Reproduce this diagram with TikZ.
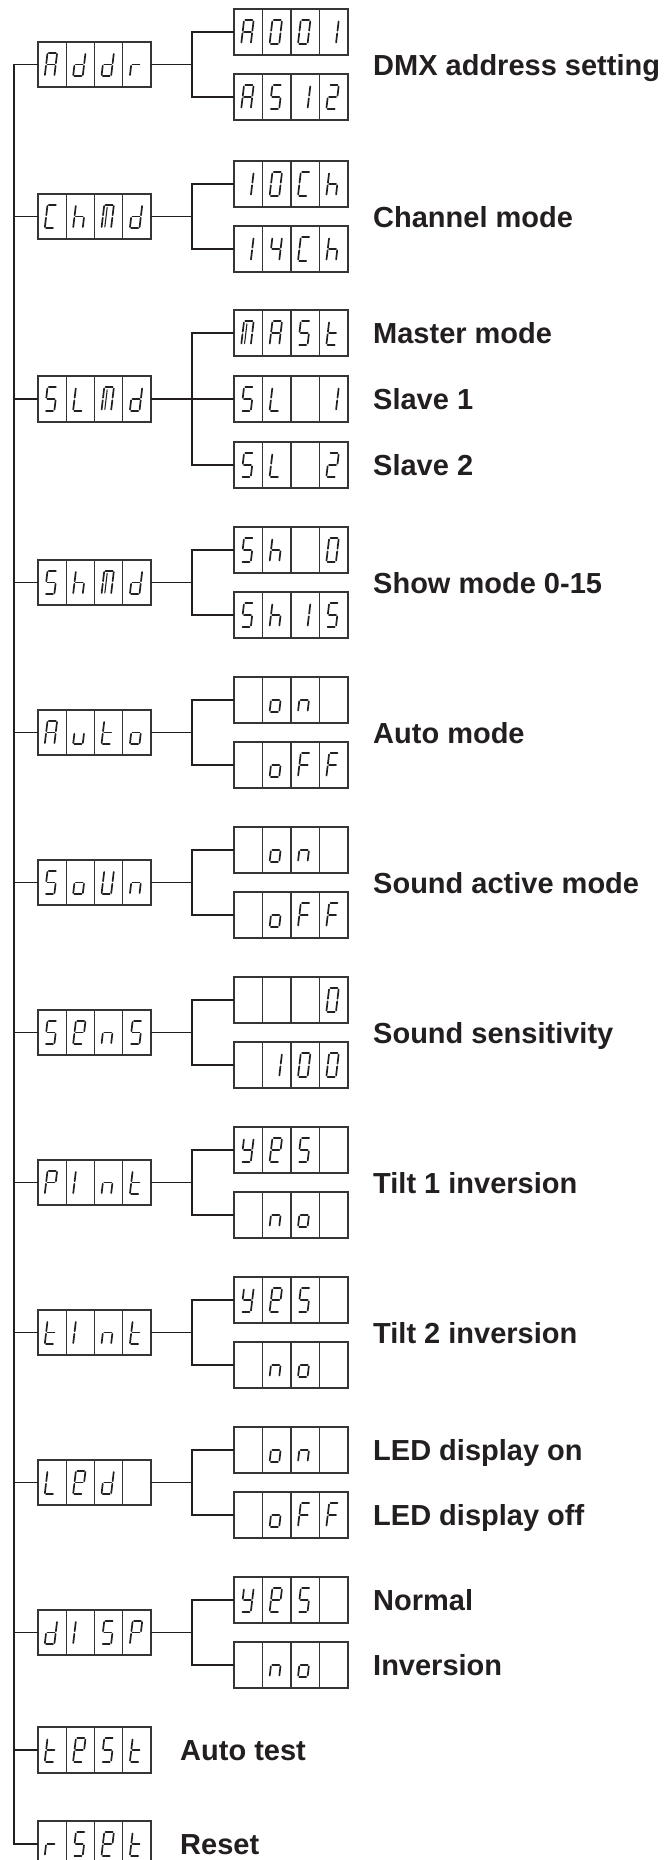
\documentclass[tikz,border=0pt]{standalone}
\usepackage{fontspec}
\setmainfont{Liberation Sans}
\usepackage{tikz}
\definecolor{ink}{HTML}{231F20}
\definecolor{frame}{HTML}{353535}

\def\hw{4.8}\def\hh{11.8}\def\gp{1.3}
\pgfkeys{/segs/.cd,
  a/.code={\draw[seg] (-\hw+\gp,-\hh) -- (\hw-\gp,-\hh);},
  b/.code={\draw[seg] (\hw,-\hh+\gp) -- (\hw,-\gp);},
  c/.code={\draw[seg] (\hw,\gp) -- (\hw,\hh-\gp);},
  d/.code={\draw[seg] (-\hw+\gp,\hh) -- (\hw-\gp,\hh);},
  e/.code={\draw[seg] (-\hw,\gp) -- (-\hw,\hh-\gp);},
  f/.code={\draw[seg] (-\hw,-\hh+\gp) -- (-\hw,-\gp);},
  g/.code={\draw[seg] (-\hw+\gp,0) -- (\hw-\gp,0);},
  m/.code={\draw[seg, line width=1.1pt] (-\hw+3.2,-\hh+2.6) -- (-\hw+3.2,\hh-\gp);},
  none/.code={}}

\newcommand\defglyph[2]{\expandafter\def\csname gl-#1\endcsname{#2}}
\defglyph{A}{a,b,c,e,f,g}
\defglyph{d}{b,c,d,e,g}
\defglyph{r}{e,g}
\defglyph{0}{a,b,c,d,e,f}
\defglyph{1}{b,c}
\defglyph{2}{a,b,g,e,d}
\defglyph{4}{f,g,b,c}
\defglyph{5}{a,f,g,c,d}
\defglyph{S}{a,f,g,c,d}
\defglyph{C}{a,f,e,d}
\defglyph{h}{f,e,g,c}
\defglyph{M}{a,b,c,e,f,m}
\defglyph{L}{f,e,d}
\defglyph{t}{f,e,d,g}
\defglyph{o}{g,c,d,e}
\defglyph{n}{g,e,c}
\defglyph{u}{e,d,c}
\defglyph{F}{a,f,g,e}
\defglyph{U}{f,e,d,c,b}
\defglyph{E}{a,b,f,g,e,d}
\defglyph{P}{a,b,f,g,e}
\defglyph{I}{f,e}
\defglyph{y}{f,b,g,c,d}
\defglyph{-}{none}

\newcommand\glyph[1]{\edef\seglist{\csname gl-#1\endcsname}%
  \foreach \s in \seglist {\pgfkeys{/segs/\s}}}

\newcommand\lcd[4]{%
  \node[lcdbox] (#1) at (#2,#3) {};
  \foreach \k in {1,2,3}
    \draw[cellrule] ([xshift=\k*28.375pt]#1.north west) -- ([xshift=\k*28.375pt]#1.south west);
  \foreach \glch [count=\i] in {#4} {
    \pgfmathsetmacro\cx{#2-56.75+(\i-0.5)*28.375-1}
    \begin{scope}[shift={(\cx,#3)}, xslant=0.12]
      \glyph{\glch}
    \end{scope}
  }%
}

\begin{document}
\begin{tikzpicture}[
  x=1pt, y=-1pt,
  lcdbox/.style={draw=frame, line width=1.7pt, rectangle, inner sep=0pt, outer sep=0pt,
                 minimum width=113.5pt, minimum height=45.5pt},
  cellrule/.style={draw=frame, line width=1.2pt},
  seg/.style={draw=ink, line width=1.7pt, line cap=round},
  wire/.style={draw=ink, line width=1.8pt},
  lbl/.style={anchor=base west, inner sep=0pt, text=ink,
              font=\fontsize{29}{30}\selectfont\bfseries},
]
\clip (0,0) rectangle (665,1860);

\lcd{addr}{94.5}{64.5}{A,d,d,r}
\lcd{a001}{291}{32}{A,0,0,1}
\lcd{a512}{291}{97}{A,5,1,2}
\lcd{chmd}{94.5}{216.5}{C,h,M,d}
\lcd{ch10}{291}{184}{1,0,C,h}
\lcd{ch14}{291}{249}{1,4,C,h}
\lcd{slmd}{94.5}{399}{S,L,M,d}
\lcd{mast}{291}{333}{M,A,S,t}
\lcd{sl1}{291}{399}{S,L,-,1}
\lcd{sl2}{291}{465}{S,L,-,2}
\lcd{shmd}{94.5}{582.5}{S,h,M,d}
\lcd{sh0}{291}{550}{S,h,-,0}
\lcd{sh15}{291}{615}{S,h,1,5}
\lcd{autom}{94.5}{732.5}{A,u,t,o}
\lcd{autoon}{291}{700}{-,o,n,-}
\lcd{autooff}{291}{765}{-,o,F,F}
\lcd{soun}{94.5}{882.5}{S,o,U,n}
\lcd{sounon}{291}{850}{-,o,n,-}
\lcd{sounoff}{291}{915}{-,o,F,F}
\lcd{sens}{94.5}{1032.5}{S,E,n,S}
\lcd{sensmin}{291}{1000}{-,-,-,0}
\lcd{sensmax}{291}{1065}{-,1,0,0}
\lcd{pint}{94.5}{1182.5}{P,I,n,t}
\lcd{pintyes}{291}{1150}{y,E,S,-}
\lcd{pintno}{291}{1215}{-,n,o,-}
\lcd{tint}{94.5}{1332.5}{t,I,n,t}
\lcd{tintyes}{291}{1300}{y,E,S,-}
\lcd{tintno}{291}{1365}{-,n,o,-}
\lcd{led}{94.5}{1482.5}{L,E,d,-}
\lcd{ledon}{291}{1450}{-,o,n,-}
\lcd{ledoff}{291}{1515}{-,o,F,F}
\lcd{disp}{94.5}{1632.5}{d,I,S,P}
\lcd{dispyes}{291}{1600}{y,E,S,-}
\lcd{dispno}{291}{1665}{-,n,o,-}
\lcd{test}{94.5}{1750}{t,E,S,t}
\lcd{rset}{94.5}{1844}{r,S,E,t}

\coordinate (spine) at (14,0);
\coordinate (fork) at (192,0);
\draw[wire] (addr.west) -- (addr.west -| spine) |- (rset.west);
\foreach \n in {chmd,slmd,shmd,autom,soun,sens,pint,tint,led,disp,test}
  \draw[wire] (\n.west) -- (\n.west -| spine);
\foreach \p/\c in {addr/a001, addr/a512, chmd/ch10, chmd/ch14, slmd/mast, slmd/sl1, slmd/sl2,
    shmd/sh0, shmd/sh15, autom/autoon, autom/autooff, soun/sounon, soun/sounoff,
    sens/sensmin, sens/sensmax, pint/pintyes, pint/pintno, tint/tintyes, tint/tintno,
    led/ledon, led/ledoff, disp/dispyes, disp/dispno}
  \draw[wire] (\p.east) -- (\p.east -| fork) |- (\c.west);

\node[lbl] (tdmx) at (373,75) {DMX address setting};
\node[lbl] (tchan) at (373,227) {Channel mode};
\node[lbl] (tmast) at (373,343.5) {Master mode};
\node[lbl] (tsl1) at (373,409.5) {Slave 1};
\node[lbl] (tsl2) at (373,475.5) {Slave 2};
\node[lbl] (tshow) at (373,593) {Show mode 0-15};
\node[lbl] (tauto) at (373,743) {Auto mode};
\node[lbl] (tsound) at (373,893) {Sound active mode};
\node[lbl] (tsens) at (373,1043) {Sound sensitivity};
\node[lbl] (ttilt1) at (373,1193) {Tilt 1 inversion};
\node[lbl] (ttilt2) at (373,1343) {Tilt 2 inversion};
\node[lbl] (tledon) at (373,1460.5) {LED display on};
\node[lbl] (tledoff) at (373,1525.5) {LED display off};
\node[lbl] (tnorm) at (373,1610.5) {Normal};
\node[lbl] (tinv) at (373,1675.5) {Inversion};
\node[lbl] (ttest) at (180,1760.5) {Auto test};
\node[lbl] (treset) at (180,1854.5) {Reset};
\end{tikzpicture}
\end{document}
